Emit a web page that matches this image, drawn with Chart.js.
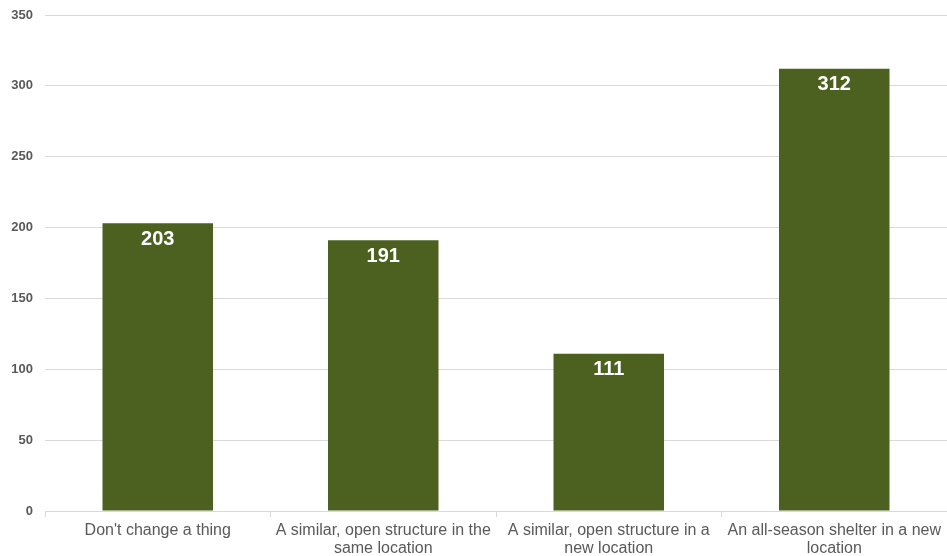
<!DOCTYPE html>
<html>
<head>
<meta charset="utf-8">
<style>
  html, body { margin: 0; padding: 0; background: #fff; }
  #wrap { width: 947px; height: 556px; }
</style>
<script src="https://cdn.jsdelivr.net/npm/chart.js@4"></script>
</head>
<body>
<div id="wrap"><canvas id="chart" width="947" height="556"></canvas></div>
<script>
const categories = [
  ["Don't change a thing"],
  ["A similar, open structure in the", "same location"],
  ["A similar, open structure in a", "new location"],
  ["An all-season shelter in a new", "location"],
];
const responses = [203, 191, 111, 312];
const yTicks = [0, 50, 100, 150, 200, 250, 300, 350];

const FONT = "'Liberation Sans', Arial, sans-serif";

// white value inside the top of every bar
const barLabels = {
  id: "barLabels",
  afterDatasetsDraw(chart) {
    const { ctx } = chart;
    const meta = chart.getDatasetMeta(0);
    ctx.save();
    ctx.fillStyle = "#ffffff";
    ctx.font = "bold 20px " + FONT;
    ctx.textAlign = "center";
    ctx.textBaseline = "middle";
    meta.data.forEach((bar, i) => {
      ctx.fillText(String(responses[i]), bar.x, bar.y + 16);
    });
    ctx.restore();
  },
};

new Chart(document.getElementById("chart"), {
  type: "bar",
  data: {
    labels: categories,
    datasets: [{
      data: responses,
      backgroundColor: "#4c601f",
      borderWidth: 0,
      categoryPercentage: 1,
      barPercentage: 0.49,
    }],
  },
  options: {
    responsive: false,
    animation: false,
    layout: { padding: { top: 15, right: 0, left: 0, bottom: 0 } },
    plugins: { legend: { display: false }, tooltip: { enabled: false } },
    scales: {
      x: {
        offset: true,
        afterFit: (s) => { s.height = 45; s.paddingLeft = 0; s.paddingRight = 0; },
        grid: { display: true, drawOnChartArea: false, tickLength: 6, color: "#d9d9d9" },
        border: { color: "#d9d9d9" },
        ticks: {
          color: "#595959",
          font: { family: FONT, size: 16, lineHeight: 1.15 },
          maxRotation: 0,
          autoSkip: false,
          padding: 4,
        },
      },
      y: {
        min: 0,
        max: 350,
        afterFit: (s) => { s.width = 45; s.paddingTop = 0; s.paddingBottom = 0; },
        afterBuildTicks: (s) => { s.ticks = yTicks.map((v) => ({ value: v })); },
        grid: { color: "#d9d9d9", drawTicks: false },
        border: { display: false },
        ticks: {
          color: "#595959",
          font: { family: FONT, size: 13, weight: "bold" },
          padding: 12,
        },
      },
    },
  },
  plugins: [barLabels],
});
</script>
</body>
</html>
